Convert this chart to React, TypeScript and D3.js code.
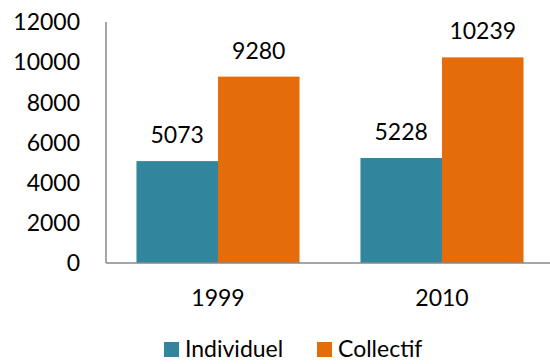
import React from "react";
import * as d3 from "d3";

const categories = ["1999", "2010"];
const seriesNames = ["Individuel", "Collectif"];
const individuel = [5073, 5228];
const collectif = [9280, 10239];
const yTicks = [0, 2000, 4000, 6000, 8000, 10000, 12000];
const colors = ["#31859C", "#E46C0A"];

const W = 550;
const H = 364;
const FONT = "Lato, 'Open Sans', sans-serif";
const FS = 23;

export default function App() {
  const plot = { left: 106, right: 554, top: 22, bottom: 263 };
  const x = d3
    .scaleBand<string>()
    .domain(categories)
    .range([plot.left, plot.right])
    .paddingInner(0)
    .paddingOuter(0);
  const bandInner = 0.136;
  const groupW = x.bandwidth() * (1 - 2 * bandInner);
  const xs = d3
    .scaleBand<string>()
    .domain(seriesNames)
    .range([0, groupW]);
  const y = d3.scaleLinear().domain([0, 12000]).range([plot.bottom, plot.top]);
  const values = [individuel, collectif];

  return (
    <svg width={W} height={H} style={{ position: "absolute", left: 0, top: 0 }}>
      <rect width={W} height={H} fill="#fff" />
      {yTicks.map((t) => (
        <text
          key={t}
          x={80}
          y={y(t)}
          dy="0.36em"
          textAnchor="end"
          fontFamily={FONT}
          fontSize={FS}
          fill="#000"
        >
          {t}
        </text>
      ))}
      {categories.map((c, ci) => {
        const gx = (x(c) as number) + x.bandwidth() * bandInner;
        return (
          <g key={c}>
            {seriesNames.map((s, si) => {
              const v = values[si][ci];
              const bx = gx + (xs(s) as number);
              return (
                <g key={s}>
                  <rect
                    x={bx}
                    y={y(v)}
                    width={xs.bandwidth()}
                    height={plot.bottom - y(v)}
                    fill={colors[si]}
                  />
                  <text
                    x={bx + xs.bandwidth() / 2}
                    y={y(v) - 18}
                    textAnchor="middle"
                    fontFamily={FONT}
                    fontSize={FS}
                    fill="#000"
                  >
                    {v}
                  </text>
                </g>
              );
            })}
            <text
              x={(x(c) as number) + x.bandwidth() / 2}
              y={298}
              dy="0.36em"
              textAnchor="middle"
              fontFamily={FONT}
              fontSize={FS}
              fill="#000"
            >
              {c}
            </text>
          </g>
        );
      })}
      <line x1={plot.left} x2={plot.left} y1={plot.top} y2={plot.bottom} stroke="#898989" strokeWidth={1.5} />
      <line x1={plot.left} x2={plot.right} y1={plot.bottom} y2={plot.bottom} stroke="#898989" strokeWidth={1.5} />
      {seriesNames.map((s, i) => {
        const lx = [164, 317][i];
        return (
          <g key={s}>
            <rect x={lx} y={342} width={15} height={15} fill={colors[i]} />
            <text x={lx + 21} y={349} dy="0.36em" fontFamily={FONT} fontSize={FS} fill="#000">
              {s}
            </text>
          </g>
        );
      })}
    </svg>
  );
}
